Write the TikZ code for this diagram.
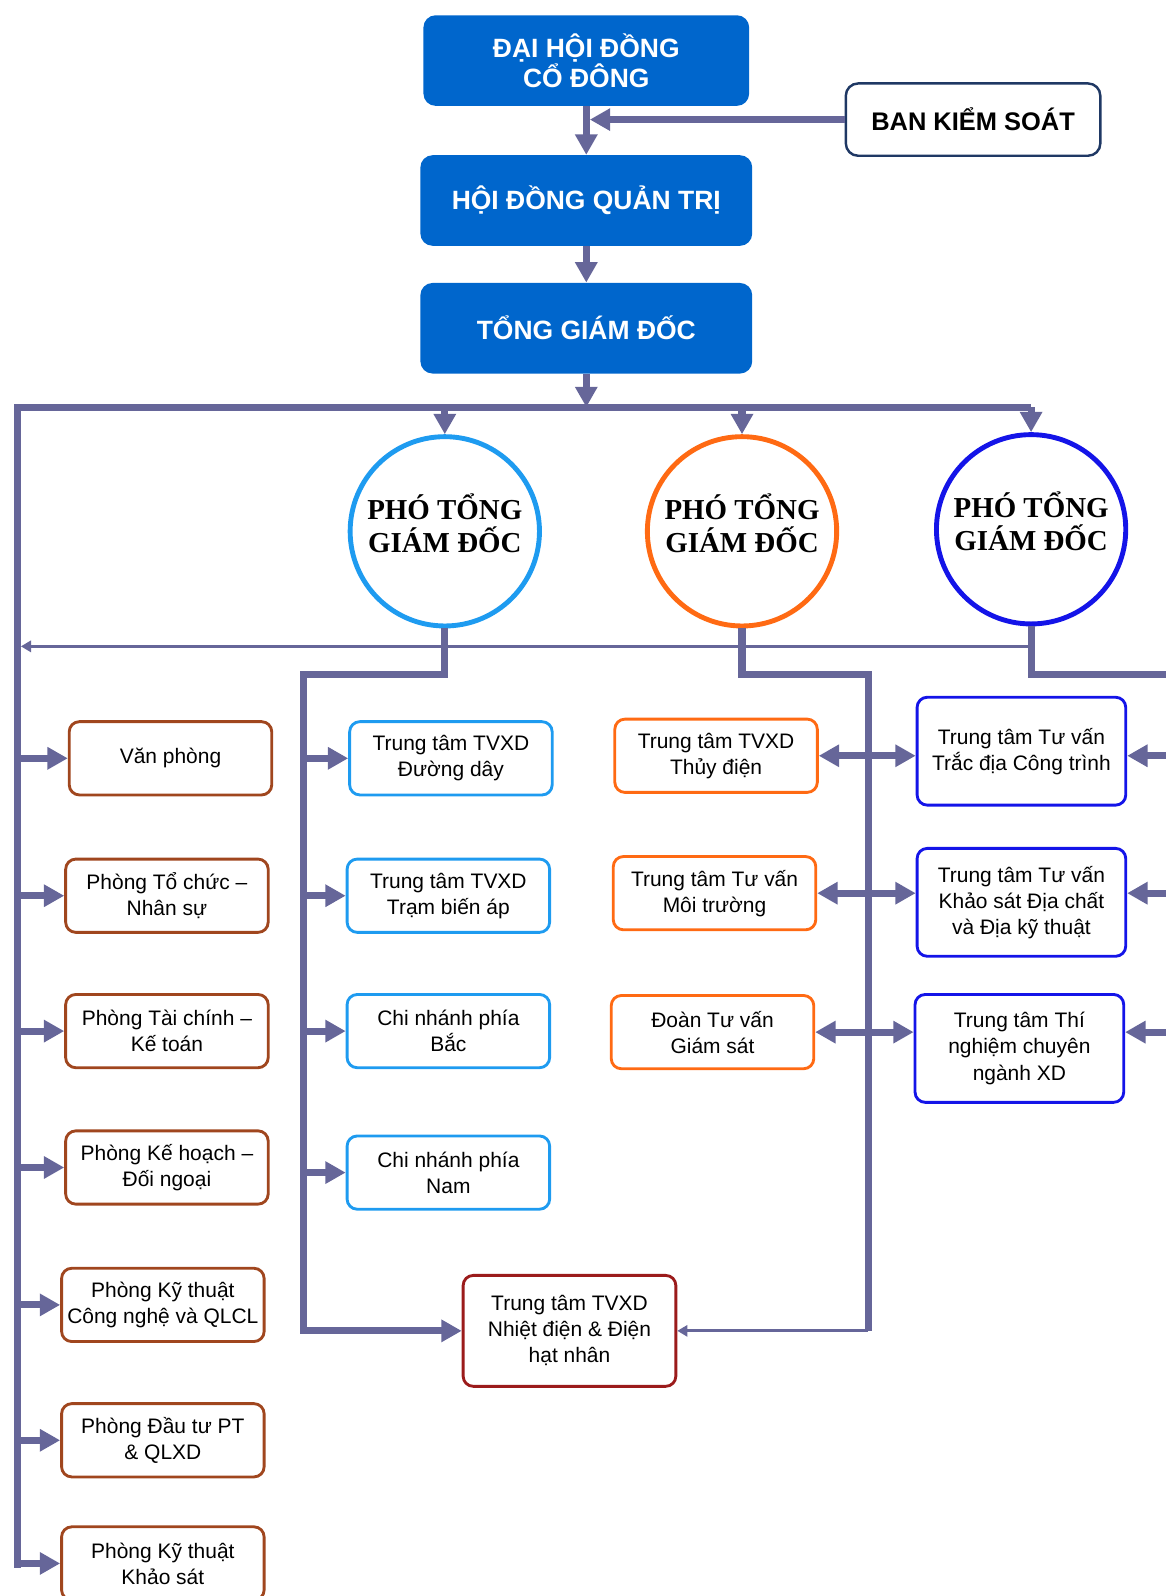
\documentclass[tikz,border=0pt]{standalone}
\usepackage{fontspec}
\setmainfont{Liberation Sans}
\newfontfamily\circfont{Liberation Serif}
\usetikzlibrary{arrows.meta}

\definecolor{linecol}{HTML}{666699}
\definecolor{topblue}{HTML}{0066CC}
\definecolor{brownline}{HTML}{A0461E}
\definecolor{skyline}{HTML}{1E9BF0}
\definecolor{orangeline}{HTML}{FF6A13}
\definecolor{blueline}{HTML}{1414E8}
\definecolor{redline}{HTML}{9B1B1B}
\definecolor{navyline}{HTML}{1F3864}

\tikzset{
    topbox/.style={fill=topblue, rounded corners=6pt, text=white, align=center, inner sep=0pt,
        minimum width=163pt, minimum height=44.5pt, font=\fontsize{13}{15}\selectfont\bfseries},
    bksbox/.style={draw=navyline, fill=white, line width=1.2pt, rounded corners=6pt, inner sep=0pt,
        minimum width=125pt, minimum height=35.5pt, font=\fontsize{12.5}{14}\selectfont\bfseries},
    unitbox/.style={draw=#1, line width=1.4pt, rounded corners=5pt, fill=white, align=center, inner sep=0pt,
        minimum width=99.5pt, minimum height=36pt, font=\fontsize{10.3}{12.8}\selectfont},
    ptgd/.style={circle, draw=#1, line width=2.4pt, fill=white, minimum size=93pt, inner sep=0pt},
    ptgdtext/.style={align=center, yshift=4pt, font=\circfont\fontsize{14.2}{16}\selectfont\bfseries},
    conn/.style={draw=linecol, line width=3.5pt},
    thinconn/.style={draw=linecol, line width=1.6pt},
    bigarrow/.style={-{Triangle[width=10.5pt,length=10pt]}},
    smallarrow/.style={-{Triangle[width=5.5pt,length=5pt]}},
    twoway/.style={{Triangle[width=10.5pt,length=10pt]}-{Triangle[width=10.5pt,length=10pt]}}
}

\begin{document}
\begin{tikzpicture}[x=0.5pt,y=-0.5pt]
    \useasboundingbox (0,0) rectangle (1145,1568);

    % cap tren
    \node[topbox, minimum width=160pt] (dhdcd) at (576,59.5) {ĐẠI HỘI ĐỒNG\\CỔ ĐÔNG};
    \node[topbox] (hdqt) at (576,197) {HỘI ĐỒNG QUẢN TRỊ};
    \node[topbox] (tgd) at (576,322.5) {TỔNG GIÁM ĐỐC};
    \node[bksbox] (bks) at (956,117.5) {BAN KIỂM SOÁT};

    % pho tong giam doc
    \node[ptgd=skyline, label={[ptgdtext]center:PHÓ TỔNG\\GIÁM ĐỐC}] (pt1) at (437,522) {};
    \node[ptgd=orangeline, label={[ptgdtext]center:PHÓ TỔNG\\GIÁM ĐỐC}] (pt2) at (729,522) {};
    \node[ptgd=blueline, label={[ptgdtext]center:PHÓ TỔNG\\GIÁM ĐỐC}] (pt3) at (1013,520) {};

    % cac phong
    \node[unitbox=brownline] (vp) at (167.5,745) {Văn phòng};
    \node[unitbox=brownline] (tc) at (164,880) {Phòng Tổ chức –\\Nhân sự};
    \node[unitbox=brownline] (tck) at (164,1013) {Phòng Tài chính –\\Kế toán};
    \node[unitbox=brownline] (kh) at (164,1147) {Phòng Kế hoạch –\\Đối ngoại};
    \node[unitbox=brownline] (ktcn) at (160,1282) {Phòng Kỹ thuật\\Công nghệ và QLCL};
    \node[unitbox=brownline] (dt) at (160,1415) {Phòng Đầu tư PT\\\& QLXD};
    \node[unitbox=brownline] (ktks) at (160,1536) {Phòng Kỹ thuật\\Khảo sát};

    \node[unitbox=skyline] (dd) at (443,745) {Trung tâm TVXD\\Đường dây};
    \node[unitbox=skyline] (tba) at (440.5,880) {Trung tâm TVXD\\Trạm biến áp};
    \node[unitbox=skyline] (cnb) at (440.5,1013) {Chi nhánh phía\\Bắc};
    \node[unitbox=skyline] (cnn) at (440.5,1152) {Chi nhánh phía\\Nam};

    \node[unitbox=redline, minimum width=104.5pt, minimum height=54.5pt] (nd) at (559.5,1307.5) {Trung tâm TVXD\\Nhiệt điện \& Điện\\hạt nhân};

    \node[unitbox=orangeline] (td) at (703.5,742.5) {Trung tâm TVXD\\Thủy điện};
    \node[unitbox=orangeline] (mt) at (702,877.5) {Trung tâm Tư vấn\\Môi trường};
    \node[unitbox=orangeline] (gs) at (700,1014) {Đoàn Tư vấn\\Giám sát};

    \node[unitbox=blueline, minimum width=102.5pt, minimum height=53pt] (tdct) at (1003.5,738) {Trung tâm Tư vấn\\Trắc địa Công trình};
    \node[unitbox=blueline, minimum width=102.5pt, minimum height=53pt] (ksdc) at (1003.5,886.5) {Trung tâm Tư vấn\\Khảo sát Địa chất\\và Địa kỹ thuật};
    \node[unitbox=blueline, minimum width=102.5pt, minimum height=53pt] (tn) at (1001.5,1030) {Trung tâm Thí\\nghiệm chuyên\\ngành XD};

    % duong noi
    \coordinate (bus) at (576,400);
    \coordinate (lbus) at (17,400);
    \coordinate (lend) at (17,1540);
    \coordinate (midrow) at (0,635);
    \coordinate (split) at (0,663);
    \coordinate (c1col) at (298,0);
    \coordinate (c2col) at (853,0);
    \coordinate (c3col) at (1150,0);

    \draw[conn,bigarrow] (dhdcd.south) -- (hdqt.north);
    \draw[conn,bigarrow,shorten >=1.75pt] (bks.west) -- (bks.west -| dhdcd.south);
    \draw[conn,bigarrow] (hdqt.south) -- (tgd.north);
    \draw[conn,bigarrow] (tgd.south) -- (bus);
    \draw[conn] (lend) -- (lbus) -- (pt3.north |- bus);
    \foreach \c in {pt1,pt2,pt3}
        \draw[conn,bigarrow] (\c.north |- bus) -- (\c.north);
    \draw[thinconn,smallarrow,shorten >=1.75pt] (pt3.south |- midrow) -- (lbus |- midrow);

    \foreach \b in {vp,tc,tck,kh,ktcn,dt,ktks}
        \draw[conn,bigarrow] (lbus |- \b.west) -- (\b.west);

    \draw[conn,bigarrow] (pt1.south) |- (c1col |- split) -- (c1col |- nd.west) -- (nd.west);
    \foreach \b in {dd,tba,cnb,cnn}
        \draw[conn,bigarrow] (c1col |- \b.west) -- (\b.west);

    \draw[conn] (pt2.south) |- (c2col |- split) -- (c2col |- nd.east);
    \draw[thinconn,smallarrow] (c2col |- nd.east) -- (nd.east);

    \draw[conn] (pt3.south) |- (c3col |- split) -- (c3col |- gs.east);
    \foreach \o/\b in {td/tdct,mt/ksdc,gs/tn}{
        \draw[conn,twoway] (\o.east) -- (\b.west |- \o.east);
        \draw[conn,bigarrow] (c3col |- \o.east) -- (\b.east |- \o.east);
    }
\end{tikzpicture}
\end{document}
